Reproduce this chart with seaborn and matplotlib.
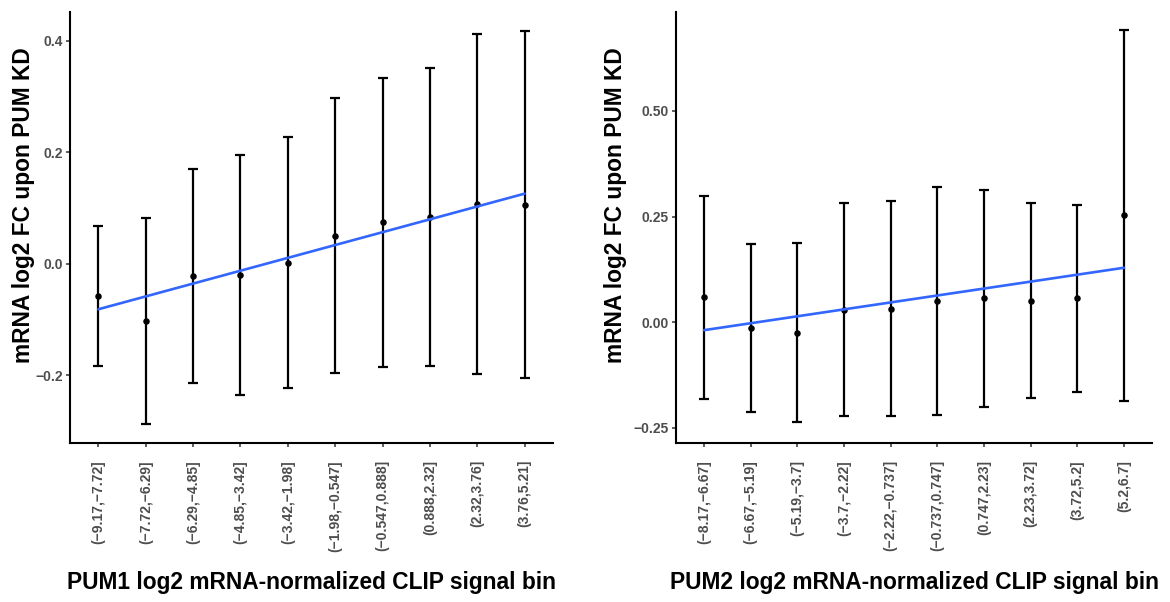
import numpy as np
import pandas as pd
import matplotlib
matplotlib.use("Agg")
import matplotlib.pyplot as plt
import seaborn as sns
from matplotlib.ticker import FixedLocator, FixedFormatter

# ---- data ----
pum1_bins = ["(\u22129.17,\u22127.72]", "(\u22127.72,\u22126.29]", "(\u22126.29,\u22124.85]",
             "(\u22124.85,\u22123.42]", "(\u22123.42,\u22121.98]", "(\u22121.98,\u22120.547]",
             "(\u22120.547,0.888]", "(0.888,2.32]", "(2.32,3.76]", "(3.76,5.21]"]
pum1_mean = [-0.058, -0.103, -0.022, -0.020, 0.002, 0.050, 0.074, 0.084, 0.107, 0.106]
pum1_err = [0.126, 0.185, 0.192, 0.215, 0.226, 0.247, 0.260, 0.267, 0.305, 0.312]

pum2_bins = ["(\u22128.17,\u22126.67]", "(\u22126.67,\u22125.19]", "(\u22125.19,\u22123.7]",
             "(\u22123.7,\u22122.22]", "(\u22122.22,\u22120.737]", "(\u22120.737,0.747]",
             "(0.747,2.23]", "(2.23,3.72]", "(3.72,5.2]", "(5.2,6.7]"]
pum2_mean = [0.059, -0.013, -0.025, 0.029, 0.032, 0.051, 0.056, 0.051, 0.056, 0.253]
pum2_err = [0.240, 0.199, 0.212, 0.252, 0.255, 0.270, 0.257, 0.231, 0.222, 0.439]

pum1_yticks = [-0.2, 0.0, 0.2, 0.4]
pum1_yticklabels = ["\u22120.2", "0.0", "0.2", "0.4"]
pum2_yticks = [-0.25, 0.0, 0.25, 0.50]
pum2_yticklabels = ["\u22120.25", "0.00", "0.25", "0.50"]

xtitles = ["PUM1 log2 mRNA-normalized CLIP signal bin", "PUM2 log2 mRNA-normalized CLIP signal bin"]
ytitle = "mRNA log2 FC upon PUM KD"

# ---- style ----
sns.set_theme(style="white")
plt.rcParams["font.family"] = ["Liberation Sans", "DejaVu Sans"]
plt.rcParams["font.weight"] = "bold"

fig = plt.figure(figsize=(11.70, 6.02), dpi=100)
W, H = 1170, 602
ax1 = fig.add_axes([70 / W, 1 - 443 / H, 483 / W, 431 / H])
ax2 = fig.add_axes([676 / W, 1 - 443 / H, 476 / W, 431 / H])

panels = [
    (ax1, pum1_bins, pum1_mean, pum1_err, pum1_yticks, pum1_yticklabels, (-0.322, 0.452), xtitles[0], (-0.072, 0.553)),
    (ax2, pum2_bins, pum2_mean, pum2_err, pum2_yticks, pum2_yticklabels, (-0.286, 0.734), xtitles[1], (-0.103, 0.553)),
]

for ax, bins, mean, err, yt, ytl, ylim, xt, ylc in panels:
    df = pd.DataFrame({"pos": np.arange(len(bins)), "bin": bins, "mean": mean, "err": err})
    ax.errorbar(df["pos"], df["mean"], yerr=df["err"], fmt="none", ecolor="black",
                elinewidth=1.6, capsize=3.4, capthick=1.6, zorder=2)
    sns.scatterplot(data=df, x="pos", y="mean", ax=ax, color="black", s=22,
                    edgecolor="black", linewidth=0, zorder=3)
    sns.regplot(data=df, x="pos", y="mean", ax=ax, scatter=False, ci=None,
                line_kws=dict(color="#3366FF", linewidth=1.9, zorder=4))
    ax.set_xlim(-0.6, len(bins) - 0.4)
    ax.set_ylim(*ylim)
    ax.xaxis.set_major_locator(FixedLocator(df["pos"].tolist()))
    ax.xaxis.set_major_formatter(FixedFormatter(bins))
    ax.yaxis.set_major_locator(FixedLocator(yt))
    ax.yaxis.set_major_formatter(FixedFormatter(ytl))
    for s in ["top", "right"]:
        ax.spines[s].set_visible(False)
    for s in ["left", "bottom"]:
        ax.spines[s].set_color("black")
        ax.spines[s].set_linewidth(1.5)
    ax.tick_params(axis="x", which="major", length=2.8, width=1.1, color="#333333",
                   pad=9.5, labelsize=10, labelcolor="#4D4D4D", rotation=90, bottom=True)
    ax.tick_params(axis="y", which="major", length=2.8, width=1.1, color="#333333",
                   pad=2.5, labelsize=10, labelcolor="#4D4D4D", left=True)
    for lab in ax.get_xticklabels():
        lab.set_fontweight("bold")
        lab.set_va("top")
        lab.set_ha("center")
    for lab in ax.get_yticklabels():
        lab.set_fontweight("bold")
    ax.set_xlabel(xt, fontsize=16.4, fontweight="bold", color="black")
    ax.set_ylabel(ytitle, fontsize=16.4, fontweight="bold", color="black")
    ax.xaxis.set_label_coords(0.5, -0.298)
    ax.yaxis.set_label_coords(*ylc)
    ax.grid(False)

fig.savefig("out.png", dpi=100, facecolor="white")
